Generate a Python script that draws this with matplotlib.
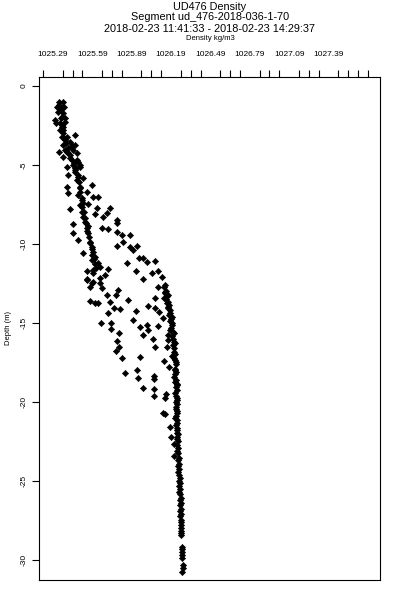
import matplotlib
matplotlib.use("Agg")
import matplotlib.pyplot as plt
import numpy as np

plt.rcParams['font.family'] = ['Liberation Sans', 'DejaVu Sans']

# ---- chart text ----
title_lines = ["UD476 Density",
               "Segment ud_476-2018-036-1-70",
               "2018-02-23 11:41:33 - 2018-02-23 14:29:37"]
x_title = "Density kg/m3"
y_title = "Depth (m)"

# tick labels on the density axis (top)
density_ticks = [1025.29, 1025.59, 1025.89, 1026.19, 1026.49, 1026.79, 1027.09, 1027.39]
depth_ticks = [0, -5, -10, -15, -20, -25, -30]

# ---- data: (density kg/m3, depth m) read from the profile ----
# near-surface column
upper_column = [
    (1025.336, -1.01), (1025.368, -1.01), (1025.339, -1.20), (1025.318, -1.31), (1025.376, -1.33),
    (1025.358, -1.39), (1025.344, -1.52), (1025.331, -1.63), (1025.368, -1.71), (1025.358, -1.94),
    (1025.384, -2.03), (1025.352, -2.03), (1025.305, -2.15), (1025.384, -2.26), (1025.313, -2.32),
    (1025.344, -2.34), (1025.360, -2.47), (1025.370, -2.58), (1025.360, -2.59), (1025.344, -2.78),
    (1025.368, -2.78), (1025.370, -2.97), (1025.459, -3.10), (1025.358, -3.21), (1025.396, -3.23),
    (1025.376, -3.29), (1025.384, -3.42), (1025.420, -3.53), (1025.389, -3.61), (1025.370, -3.73),
    (1025.433, -3.73), (1025.459, -3.73), (1025.436, -3.86), (1025.404, -3.92), (1025.446, -4.05),
    (1025.384, -4.05), (1025.339, -4.16), (1025.394, -4.16), (1025.473, -4.24), (1025.404, -4.24),
    (1025.420, -4.37), (1025.370, -4.47), (1025.420, -4.56), (1025.436, -4.68), (1025.475, -4.68),
    (1025.483, -4.79), (1025.452, -4.87), (1025.446, -5.00), (1025.496, -5.00), (1025.394, -5.11),
    (1025.496, -5.11), (1025.467, -5.19), (1025.459, -5.19), (1025.459, -5.32), (1025.459, -5.44),
    (1025.407, -5.63), (1025.483, -5.63), (1025.480, -5.76), (1025.522, -5.82), (1025.473, -5.95),
    (1025.488, -6.08), (1025.585, -6.27), (1025.496, -6.37), (1025.394, -6.39), (1025.496, -6.46),
    (1025.549, -6.69), (1025.496, -6.71), (1025.407, -6.75), (1025.483, -6.90), (1025.593, -7.01),
    (1025.637, -7.04), (1025.512, -7.09), (1025.509, -7.22), (1025.519, -7.41), (1025.561, -7.47),
    (1025.496, -7.53), (1025.512, -7.66), (1025.420, -7.79), (1025.509, -7.96), (1025.527, -7.97),
    (1025.611, -8.10), (1025.522, -8.27), (1025.535, -8.35), (1025.535, -8.59), (1025.543, -8.67),
    (1025.446, -8.73), (1025.559, -8.86), (1025.549, -8.99), (1025.551, -9.18), (1025.446, -9.30),
    (1025.561, -9.30), (1025.567, -9.56), (1025.483, -9.75), (1025.575, -9.85), (1025.575, -9.94),
    (1025.585, -10.17), (1025.587, -10.32), (1025.598, -10.49), (1025.522, -10.57), (1025.587, -10.70),
    (1025.611, -10.80), (1025.603, -10.95), (1025.585, -11.01), (1025.637, -11.18), (1025.611, -11.27),
    (1025.650, -11.44), (1025.619, -11.52), (1025.713, -11.60), (1025.598, -11.65), (1025.549, -11.69),
    (1025.595, -11.84), (1025.687, -11.96), (1025.650, -12.15), (1025.549, -12.22), (1025.549, -12.28),
    (1025.598, -12.39), (1025.587, -12.47), (1025.650, -12.49), (1025.575, -12.70), (1025.664, -12.80),
]

# scattered casts between the two columns
scatter_points = [
    (1025.624, -7.72), (1025.726, -7.72), (1025.700, -8.04), (1025.673, -8.29), (1025.776, -8.48),
    (1025.776, -8.67), (1025.664, -8.99), (1025.713, -9.05), (1025.776, -9.22), (1025.815, -9.43),
    (1025.877, -9.43), (1025.828, -9.89), (1025.781, -10.11), (1025.930, -10.11), (1025.877, -10.17),
    (1025.903, -10.38), (1025.943, -10.89), (1025.978, -10.87), (1026.067, -11.06), (1025.855, -11.22),
    (1026.005, -11.16), (1025.925, -11.69), (1026.044, -11.82), (1026.093, -11.69), (1026.120, -12.11),
    (1025.978, -12.22), (1026.093, -12.70), (1025.788, -12.91), (1025.700, -13.23), (1025.773, -13.23),
    (1026.067, -13.44), (1026.133, -13.44), (1025.575, -13.59), (1025.611, -13.72), (1025.637, -13.75),
    (1025.726, -13.65), (1025.859, -13.55), (1026.018, -13.92), (1026.067, -14.07), (1025.752, -14.07),
    (1025.802, -14.13), (1025.925, -14.22), (1026.101, -14.29), (1025.713, -14.39), (1026.128, -14.70),
    (1025.899, -14.81), (1025.656, -15.02), (1025.734, -15.02), (1026.005, -15.13), (1026.093, -15.19),
    (1025.951, -15.27), (1025.734, -15.38), (1026.013, -15.45), (1025.796, -15.61), (1025.978, -15.76),
    (1026.052, -16.03), (1025.781, -16.12), (1026.067, -16.50), (1025.796, -16.50), (1025.768, -16.75),
    (1025.951, -17.17), (1025.815, -17.24), (1026.133, -17.39), (1025.930, -17.98), (1025.841, -18.18),
    (1026.062, -18.36), (1025.935, -18.50), (1026.059, -18.56), (1025.978, -19.10), (1026.057, -19.18),
    (1026.151, -19.51), (1026.059, -19.60), (1026.146, -19.77), (1026.128, -20.68), (1026.146, -20.76),
    (1026.183, -21.56), (1026.188, -22.23), (1026.209, -22.66), (1026.214, -23.42),
]

# lower column below the mixed layer
lower_column = [
    (1026.146, -12.60), (1026.136, -12.75), (1026.152, -12.95), (1026.146, -13.02), (1026.144, -13.10),
    (1026.169, -13.23), (1026.160, -13.30), (1026.152, -13.50), (1026.168, -13.65), (1026.156, -13.75),
    (1026.175, -13.85), (1026.168, -14.00), (1026.169, -14.07), (1026.183, -14.20), (1026.183, -14.39),
    (1026.175, -14.50), (1026.196, -14.60), (1026.190, -14.75), (1026.183, -14.90), (1026.196, -15.02),
    (1026.198, -15.10), (1026.190, -15.30), (1026.183, -15.45), (1026.204, -15.55), (1026.209, -15.65),
    (1026.169, -15.76), (1026.198, -15.85), (1026.204, -16.00), (1026.169, -16.08), (1026.212, -16.20),
    (1026.220, -16.29), (1026.204, -16.40), (1026.156, -16.50), (1026.212, -16.60), (1026.209, -16.82),
    (1026.220, -16.95), (1026.196, -17.09), (1026.212, -17.20), (1026.220, -17.35), (1026.227, -17.45),
    (1026.228, -17.60), (1026.177, -17.80), (1026.220, -17.90), (1026.220, -17.98), (1026.228, -18.10),
    (1026.220, -18.25), (1026.215, -18.40), (1026.228, -18.60), (1026.220, -18.72), (1026.235, -18.85),
    (1026.232, -18.93), (1026.228, -19.05), (1026.235, -19.25), (1026.222, -19.45), (1026.228, -19.60),
    (1026.235, -19.75), (1026.232, -19.88), (1026.228, -20.00), (1026.235, -20.15), (1026.225, -20.30),
    (1026.228, -20.45), (1026.235, -20.60), (1026.232, -20.72), (1026.228, -20.90), (1026.220, -21.03),
    (1026.235, -21.15), (1026.232, -21.35), (1026.228, -21.45), (1026.232, -21.66), (1026.235, -21.80),
    (1026.237, -21.98), (1026.243, -22.05), (1026.232, -22.23),
]

# deep column
deep_column = [
    (1026.235, -22.35), (1026.243, -22.50), (1026.235, -22.75), (1026.243, -22.90), (1026.235, -23.10),
    (1026.243, -23.25), (1026.250, -23.55), (1026.243, -23.70), (1026.250, -23.90), (1026.243, -24.05),
    (1026.250, -24.25), (1026.243, -24.45), (1026.250, -24.60), (1026.258, -24.80), (1026.250, -25.00),
    (1026.258, -25.15), (1026.250, -25.35), (1026.258, -25.50), (1026.250, -25.70), (1026.258, -25.85),
    (1026.266, -26.05), (1026.258, -26.20), (1026.266, -26.40), (1026.258, -26.55), (1026.266, -26.75),
    (1026.258, -26.90), (1026.266, -27.10), (1026.258, -27.25), (1026.266, -27.45), (1026.266, -27.60),
    (1026.266, -27.80), (1026.266, -27.95), (1026.266, -28.15), (1026.266, -28.30), (1026.266, -28.45),
    (1026.274, -29.15), (1026.274, -29.30), (1026.274, -29.50), (1026.274, -29.70), (1026.274, -29.85),
    (1026.282, -30.35), (1026.282, -30.50), (1026.274, -30.75),
]

#######################################################################
fig = plt.figure(figsize=(4, 6), dpi=100)
ax = fig.add_axes([39 / 400, 1 - 580 / 600, 341 / 400, 503 / 600])

for seg in (upper_column, scatter_points, lower_column, deep_column):
    arr = np.array(seg)
    ax.plot(arr[:, 0], arr[:, 1], linestyle='none', marker='D', markersize=3.2,
            color='black', markeredgewidth=0.4)

ax.set_xlim(1025.1845, 1027.7816)
ax.set_ylim(-31.27, 0.57)

# density axis on top: labelled every 4th tick
ax.xaxis.tick_top()
ax.set_xticks(density_ticks)
ax.set_xticklabels(["%.2f" % v for v in density_ticks])
ax.set_xticks(np.arange(1025.215, 1027.70, 0.075), minor=True)
ax.tick_params(axis='x', which='major', length=0, pad=13.5, labelsize=6)
ax.tick_params(axis='x', which='minor', length=5, width=0.8, direction='out')

ax.set_yticks(depth_ticks)
ax.set_yticklabels([str(v) for v in depth_ticks], rotation=90, va='center')
ax.tick_params(axis='y', which='major', length=5, width=0.8, direction='out',
               pad=3, labelsize=6)

for s in ax.spines.values():
    s.set_linewidth(0.8)

fig.text(8 / 400, 1 - 328 / 600, y_title, rotation=90, ha='center', va='center', fontsize=5.5)
fig.text(210 / 400, 1 - 7 / 600, title_lines[0], ha='center', va='center', fontsize=7.8)
fig.text(210 / 400, 1 - 17.5 / 600, title_lines[1], ha='center', va='center', fontsize=7.8)
fig.text(210 / 400, 1 - 29.5 / 600, title_lines[2], ha='center', va='center', fontsize=7.8)
fig.text(210 / 400, 1 - 38.5 / 600, x_title, ha='center', va='center', fontsize=5.5)

fig.savefig('out.png', dpi=100)
